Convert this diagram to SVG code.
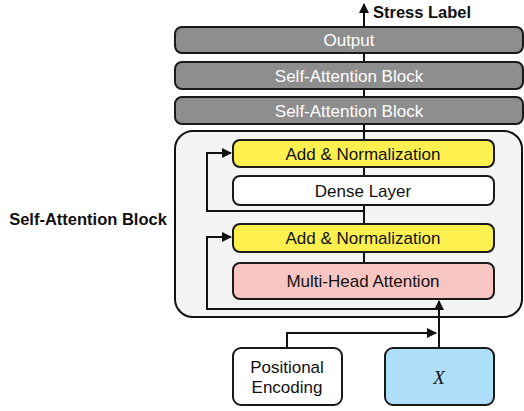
<svg xmlns="http://www.w3.org/2000/svg" width="524" height="411" viewBox="0 0 524 411">
<style>
.box{stroke:#1a1a1a;stroke-width:2}
.gray{fill:#8e8e8e}
.t{font-family:"Liberation Sans",Arial,sans-serif;font-size:17px;text-anchor:middle;fill:#111}
.w{fill:#fff}
.b{font-weight:bold;font-size:16.5px}
.ln{fill:none;stroke:#111;stroke-width:2}
</style>
<defs>
<marker id="ah" viewBox="0 0 10 10" refX="9" refY="5" markerWidth="5" markerHeight="5" orient="auto" markerUnits="strokeWidth">
<path d="M0,0 L10,5 L0,10 z" fill="#111"/>
</marker>
</defs>
<rect width="524" height="411" fill="#fff"/>
<g id="container">
<rect x="175" y="131" width="347" height="186" rx="18" fill="#f4f4f4" stroke="#111" stroke-width="2"/>
</g>
<g id="connectors">
<line class="ln" x1="364" y1="300" x2="364" y2="4" marker-end="url(#ah)"/>
<path class="ln" d="M364,211 H207 V153 H231" marker-end="url(#ah)"/>
<path class="ln" d="M439,309 H207 V237 H231" marker-end="url(#ah)"/>
<line class="ln" x1="439" y1="348" x2="439" y2="301" marker-end="url(#ah)"/>
<path class="ln" d="M287,348 V333 H436" marker-end="url(#ah)"/>
</g>
<g id="output">
<rect class="box gray" x="175" y="27" width="348" height="26" rx="7"/>
<text class="t w" x="349" y="46">Output</text>
</g>
<g id="sab2">
<rect class="box gray" x="175" y="62" width="348" height="27" rx="7"/>
<text class="t w" x="349" y="81.5">Self-Attention Block</text>
</g>
<g id="sab1">
<rect class="box gray" x="175" y="97" width="348" height="27" rx="7"/>
<text class="t w" x="349" y="116.5">Self-Attention Block</text>
</g>
<g id="addnorm1">
<rect class="box" x="233" y="140" width="261" height="27" rx="7" fill="#fdf04f"/>
<text class="t" x="363" y="159.5">Add &amp; Normalization</text>
</g>
<g id="dense">
<rect class="box" x="233" y="176" width="261" height="29" rx="7" fill="#fff"/>
<text class="t" x="363" y="196.5">Dense Layer</text>
</g>
<g id="addnorm2">
<rect class="box" x="233" y="224" width="261" height="28" rx="7" fill="#fdf04f"/>
<text class="t" x="363" y="244">Add &amp; Normalization</text>
</g>
<g id="mha">
<rect class="box" x="233" y="263" width="261" height="36" rx="7" fill="#f8c6c2"/>
<text class="t" x="363" y="287">Multi-Head Attention</text>
</g>
<g id="posenc">
<rect class="box" x="233" y="348" width="109" height="57" rx="8" fill="#fff"/>
<text class="t" x="287" y="373">Positional</text>
<text class="t" x="287" y="393">Encoding</text>
</g>
<g id="x">
<rect class="box" x="385" y="348" width="109" height="57" rx="8" fill="#addffb"/>
<text x="439" y="384" style="font-family:'Liberation Serif','Times New Roman',serif;font-size:19px;font-style:italic;text-anchor:middle;fill:#111">X</text>
</g>
<g id="labels">
<text class="t b" x="373" y="18" style="text-anchor:start">Stress Label</text>
<text class="t b" x="88" y="225">Self-Attention Block</text>
</g>
</svg>
